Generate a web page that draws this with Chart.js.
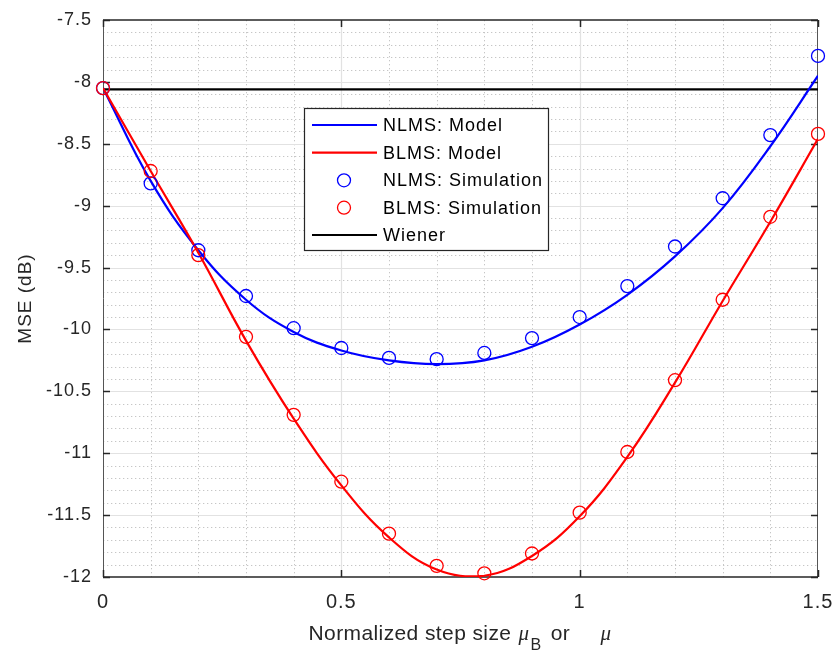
<!DOCTYPE html>
<html><head><meta charset="utf-8">
<script src="https://cdn.jsdelivr.net/npm/chart.js@4.4.1/dist/chart.umd.min.js"></script>
<style>html,body{margin:0;padding:0;background:#fff}canvas{display:block}</style>
</head><body>
<canvas id="c" width="834" height="650"></canvas>
<script>
// ---- data ----
const stepSizes = [0, 0.1, 0.2, 0.3, 0.4, 0.5, 0.6, 0.7, 0.8, 0.9, 1.0, 1.1, 1.2, 1.3, 1.4, 1.5];
const nlmsModel = [-8.05, -8.80, -9.36, -9.76, -10.02, -10.17, -10.25, -10.28, -10.25, -10.14, -9.96, -9.72, -9.41, -9.02, -8.52, -7.95];
const blmsModel = [-8.05, -8.72, -9.38, -10.09, -10.72, -11.26, -11.68, -11.94, -11.99, -11.83, -11.51, -11.03, -10.43, -9.77, -9.13, -8.46];
const nlmsSim   = [-8.05, -8.82, -9.36, -9.73, -9.99, -10.15, -10.23, -10.24, -10.19, -10.07, -9.90, -9.65, -9.33, -8.94, -8.43, -7.79];
const blmsSim   = [-8.05, -8.72, -9.40, -10.06, -10.69, -11.23, -11.65, -11.91, -11.97, -11.81, -11.48, -10.99, -10.41, -9.76, -9.09, -8.42];
const wienerMSE = -8.06;
const xTickValues = [0, 0.5, 1, 1.5];
const yTickValues = [-12, -11.5, -11, -10.5, -10, -9.5, -9, -8.5, -8, -7.5];
const seriesLabels = ['NLMS: Model', 'BLMS: Model', 'NLMS: Simulation', 'BLMS: Simulation', 'Wiener'];
const yAxisTitle = 'MSE (dB)';
const xAxisTitleParts = ['Normalized step size ', '\u03bc', 'B', ' or ', '\u03bc'];

const FONT = '"Liberation Sans", Arial, Helvetica, sans-serif';
const TXT = '#262626';

const pts = ys => stepSizes.map((x, i) => ({x, y: ys[i]}));

const frame = {
  id: 'frame',
  beforeInit(chart) { try { chart.ctx.letterSpacing = '1px'; } catch (e) {} },
  beforeDraw(chart) { try { chart.ctx.letterSpacing = '1px'; } catch (e) {} },
  beforeDatasetsDraw(chart) {
    const {ctx, chartArea: a, scales: {x, y}} = chart;
    ctx.save();
    const line = (x1, y1, x2, y2) => { ctx.beginPath(); ctx.moveTo(x1, y1); ctx.lineTo(x2, y2); ctx.stroke(); };
    // minor grid (dotted)
    ctx.strokeStyle = '#c6c6c6'; ctx.lineWidth = 1; ctx.setLineDash([1.3, 2.7]);
    for (let i = 1; i < 15; i++) {
      if (i % 5 === 0) continue;
      const px = Math.round(x.getPixelForValue(i / 10)) + 0.5;
      line(px, a.top, px, a.bottom);
    }
    for (let i = 1; i < 45; i++) {
      if (i % 5 === 0) continue;
      const py = Math.round(y.getPixelForValue(-12 + i / 10)) + 0.5;
      line(a.left, py, a.right, py);
    }
    // major grid
    ctx.setLineDash([]); ctx.strokeStyle = '#e2e2e2'; ctx.lineWidth = 1.2;
    xTickValues.forEach(v => { const px = Math.round(x.getPixelForValue(v)) + 0.5; if (px > a.left + 1 && px < a.right - 1) line(px, a.top, px, a.bottom); });
    yTickValues.forEach(v => { const py = Math.round(y.getPixelForValue(v)) + 0.5; if (py > a.top + 1 && py < a.bottom - 1) line(a.left, py, a.right, py); });
    // box
    ctx.strokeStyle = '#555'; ctx.lineWidth = 1;
    line(a.left + 0.5, a.top, a.left + 0.5, a.bottom);
    line(a.right - 0.5, a.top, a.right - 0.5, a.bottom);
    ctx.strokeStyle = '#262626'; ctx.lineWidth = 1.6;
    line(a.left, a.top, a.right, a.top);
    line(a.left, a.bottom, a.right, a.bottom);
    // inward ticks
    ctx.lineWidth = 1.5; ctx.strokeStyle = '#262626';
    const tl = 7;
    xTickValues.forEach(v => { const px = Math.round(x.getPixelForValue(v)) + 0.5; line(px, a.bottom, px, a.bottom - tl); line(px, a.top, px, a.top + tl); });
    yTickValues.forEach(v => { const py = Math.round(y.getPixelForValue(v)) + 0.5; line(a.left, py, a.left + tl, py); line(a.right, py, a.right - tl, py); });
    ctx.restore();
  },
  afterDatasetsDraw(chart) {
    const {ctx} = chart;
    ctx.save();
    const bx = 304, by = 108, bw = 244, bh = 142;
    ctx.fillStyle = '#fff'; ctx.fillRect(bx, by, bw, bh);
    ctx.strokeStyle = '#262626'; ctx.lineWidth = 1.2; ctx.strokeRect(bx + 0.5, by + 0.5, bw, bh);
    const rows = [125, 152.7, 180.3, 207.7, 235];
    const ds = chart.data.datasets;
    ctx.font = '18px ' + FONT; ctx.textBaseline = 'middle'; ctx.textAlign = 'left'; ctx.fillStyle = '#000';
    ds.forEach((d, r) => {
      const yy = rows[r];
      if (d.showLine === false) {
        ctx.strokeStyle = d.borderColor; ctx.lineWidth = 1.3;
        ctx.beginPath(); ctx.arc(344, yy, 6.5, 0, Math.PI * 2); ctx.stroke();
      } else {
        ctx.strokeStyle = d.borderColor; ctx.lineWidth = 2.2;
        ctx.beginPath(); ctx.moveTo(312, yy); ctx.lineTo(377, yy); ctx.stroke();
      }
      ctx.fillStyle = '#000';
      ctx.fillText(d.label, 383, yy + 1);
    });
    ctx.restore();
  },
  afterDraw(chart) {
    // x-axis title with italic mu and subscript B
    const {ctx, chartArea: a} = chart;
    ctx.save();
    try { ctx.letterSpacing = '0.4px'; } catch (e) {}
    ctx.fillStyle = TXT; ctx.textBaseline = 'alphabetic'; ctx.textAlign = 'left';
    const x0 = (a.left + a.right) / 2 - 152;
    const base = 640;
    const specs = [
      {f: '21px ' + FONT, dx: 0, dy: 0},
      {f: 'italic 21px "Liberation Serif", serif', dx: 210, dy: 0},
      {f: '16px ' + FONT, dx: 222, dy: 10},
      {f: '21px ' + FONT, dx: 236, dy: 0},
      {f: 'italic 21px "Liberation Serif", serif', dx: 292, dy: 0}
    ];
    xAxisTitleParts.forEach((t, i) => { ctx.font = specs[i].f; ctx.fillText(t, x0 + specs[i].dx, base + specs[i].dy); });
    ctx.restore();
  }
};

new Chart(document.getElementById('c'), {
  type: 'scatter',
  data: {
    datasets: [
      {label: seriesLabels[0], data: pts(nlmsModel), showLine: true, borderColor: '#0000ff', backgroundColor: '#0000ff', borderWidth: 2.2, pointRadius: 0, tension: 0.4, fill: false, order: 3},
      {label: seriesLabels[1], data: pts(blmsModel), showLine: true, borderColor: '#ff0000', backgroundColor: '#ff0000', borderWidth: 2.2, pointRadius: 0, tension: 0.4, fill: false, order: 2},
      {label: seriesLabels[2], data: pts(nlmsSim), showLine: false, borderColor: '#0000ff', backgroundColor: 'rgba(0,0,0,0)', pointRadius: 6.5, pointBorderWidth: 1.3, pointStyle: 'circle', clip: false, order: 1},
      {label: seriesLabels[3], data: pts(blmsSim), showLine: false, borderColor: '#ff0000', backgroundColor: 'rgba(0,0,0,0)', pointRadius: 6.5, pointBorderWidth: 1.3, pointStyle: 'circle', clip: false, order: 0},
      {label: seriesLabels[4], data: [{x: stepSizes[0], y: wienerMSE}, {x: stepSizes[stepSizes.length - 1], y: wienerMSE}], showLine: true, borderColor: '#000000', backgroundColor: '#000', borderWidth: 2.2, pointRadius: 0, fill: false, order: 4}
    ]
  },
  options: {
    responsive: false,
    animation: false,
    devicePixelRatio: 1,
    layout: {padding: {left: 0, right: 16, top: 20, bottom: 0}},
    plugins: {legend: {display: false}, tooltip: {enabled: false}},
    scales: {
      x: {
        type: 'linear', min: 0, max: 1.5,
        afterFit(s) { s.height = 73; s.paddingLeft = 0; s.paddingRight = 0; },
        afterBuildTicks(s) { s.ticks = xTickValues.map(v => ({value: v})); },
        grid: {display: false, drawTicks: false},
        border: {display: false},
        ticks: {color: TXT, font: {family: FONT, size: 20}, padding: 13, maxRotation: 0, callback: v => String(v)}
      },
      y: {
        type: 'linear', min: -12, max: -7.5,
        afterFit(s) { s.width = 103; s.paddingTop = 0; s.paddingBottom = 0; },
        afterBuildTicks(s) { s.ticks = yTickValues.map(v => ({value: v})); },
        grid: {display: false, drawTicks: false},
        border: {display: false},
        ticks: {color: TXT, font: {family: FONT, size: 18}, padding: 11, callback: v => String(v)},
        title: {display: true, text: yAxisTitle, color: TXT, font: {family: FONT, size: 19}, padding: {top: 14, bottom: 0}}
      }
    }
  },
  plugins: [frame]
});
</script>
</body></html>
